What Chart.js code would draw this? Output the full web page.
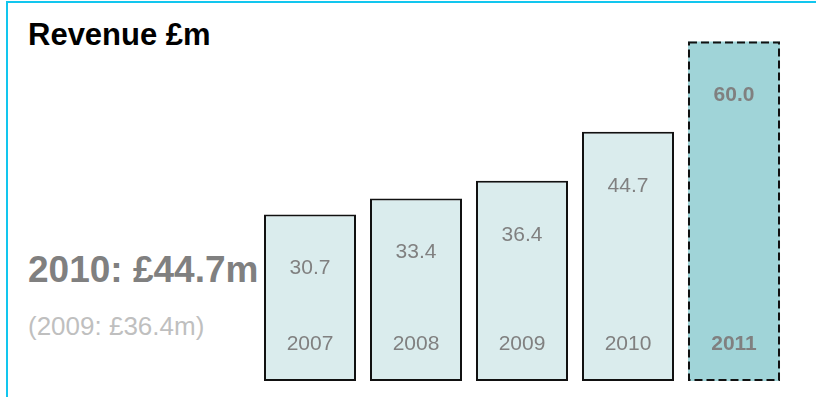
<!DOCTYPE html>
<html>
<head>
<meta charset="utf-8">
<script src="https://cdn.jsdelivr.net/npm/chart.js@4/dist/chart.umd.min.js"></script>
<style>
  html, body { margin: 0; padding: 0; background: #ffffff; }
  #wrap { position: relative; width: 816px; height: 397px; overflow: hidden; font-family: "Liberation Sans", Arial, sans-serif; }
  #frameTop { position: absolute; left: 6px; top: 1px; width: 810px; height: 2px; background: #12c6ee; }
  #frameLeft { position: absolute; left: 6px; top: 1px; width: 2px; height: 396px; background: #12c6ee; }
  .txt { position: absolute; white-space: nowrap; line-height: 1; }
  #title { left: 28px; top: 18.8px; font-size: 31px; font-weight: bold; color: #000; }
  #headline { left: 28px; top: 251.4px; font-size: 37px; font-weight: bold; color: #808080; }
  #prior { left: 28px; top: 313px; font-size: 26px; color: #bfbfbf; }
  canvas { position: absolute; left: 0; top: 0; }
</style>
</head>
<body>
<div id="wrap">
  <div id="frameTop"></div>
  <div id="frameLeft"></div>
  <div class="txt" id="title">Revenue £m</div>
  <div class="txt" id="headline">2010: £44.7m</div>
  <div class="txt" id="prior">(2009: £36.4m)</div>
  <canvas id="c" width="816" height="397"></canvas>
</div>
<script>
// ---- data ----
const years = ['2007', '2008', '2009', '2010', '2011'];
const revenue = [30.7, 33.4, 36.4, 44.7, 60.0];
const valueLabels = ['30.7', '33.4', '36.4', '44.7', '60.0'];
const highlightYear = '2011';
const axisMin = 2.5;
const axisMax = 65;

const isHi = (i) => years[i] === highlightYear;

const labelPlugin = {
  id: 'barLabels',
  afterDatasetsDraw(chart) {
    const ctx = chart.ctx;
    const meta = chart.getDatasetMeta(0);
    meta.data.forEach((el, i) => {
      const { x, y, base, width } = el.getProps(['x', 'y', 'base', 'width'], true);
      ctx.save();
      if (isHi(i)) {
        ctx.strokeStyle = '#111111';
        ctx.lineWidth = 2;
        ctx.setLineDash([8, 4]);
        ctx.strokeRect(x - width / 2 + 1, y + 1, width - 2, base - y - 2);
      }
      ctx.setLineDash([]);
      ctx.fillStyle = '#808080';
      ctx.textAlign = 'center';
      ctx.textBaseline = 'middle';
      ctx.font = (isHi(i) ? 'bold ' : '') + '21px "Liberation Sans", Arial, sans-serif';
      ctx.fillText(valueLabels[i], x, y + 54);
      ctx.fillText(years[i], x, base - 37);
      ctx.restore();
    });
  }
};

new Chart(document.getElementById('c'), {
  type: 'bar',
  data: {
    labels: years,
    datasets: [{
      data: revenue,
      base: axisMin,
      backgroundColor: (c) => isHi(c.dataIndex) ? '#a0d4d8' : '#daeced',
      borderColor: '#111111',
      borderWidth: (c) => isHi(c.dataIndex) ? 0 : 2,
      borderSkipped: false,
      categoryPercentage: 1,
      barPercentage: 0.868
    }]
  },
  options: {
    responsive: false,
    animation: false,
    events: [],
    layout: { padding: { left: 257, right: 29, top: 12, bottom: 16 } },
    plugins: { legend: { display: false }, tooltip: { enabled: false }, title: { display: false } },
    scales: {
      x: { display: false },
      y: { display: false, min: axisMin, max: axisMax }
    }
  },
  plugins: [labelPlugin]
});
</script>
</body>
</html>
